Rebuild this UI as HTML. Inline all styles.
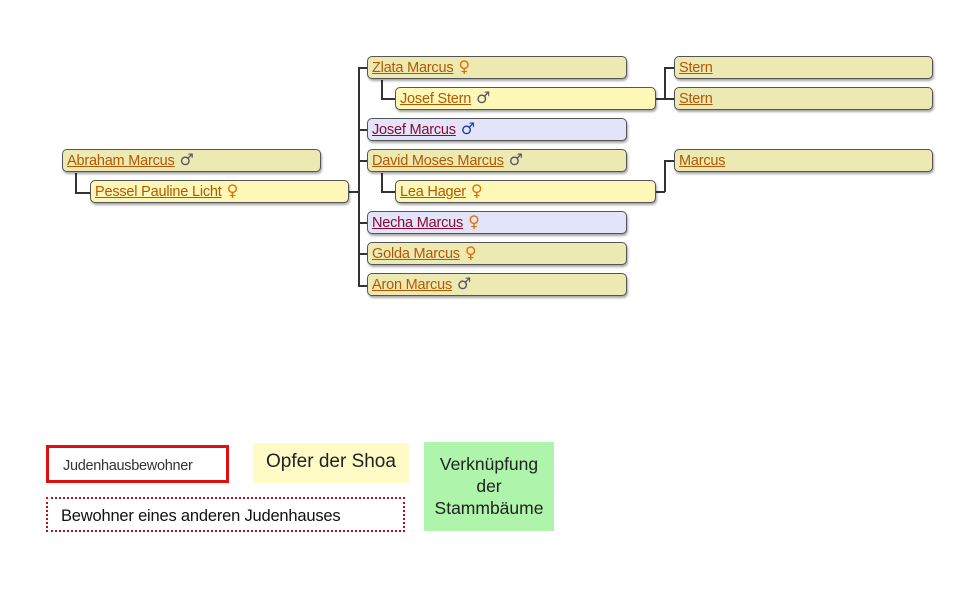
<!DOCTYPE html>
<html><head><meta charset="utf-8"><style>
body{margin:0;width:978px;height:591px;background:#fff;position:relative;overflow:hidden;font-family:"Liberation Sans","DejaVu Sans",sans-serif;}
.b{position:absolute;height:21px;border:1.5px solid #555;border-radius:5px;box-shadow:1px 2px 2px rgba(0,0,0,.35);box-sizing:content-box;font-size:14.5px;line-height:22px;padding-left:4px;white-space:nowrap;letter-spacing:-0.2px;overflow:hidden;}
.k{background:#ede9b2;}
.y{background:#fdf8b8;}
.l{background:#e3e3f9;}
.b a{color:#b35800;text-decoration:underline;}
.l a{color:#8a0a36;}
.s{font-family:"DejaVu Sans",sans-serif;font-size:16px;margin-left:5px;line-height:0;vertical-align:0;}
.m{color:#556;}
.lm{color:#1c3ab0;}
.f{color:#e27000;}
.ln{position:absolute;background:#333;}
</style></head><body>
<div class="ln" style="left:75px;top:173px;width:1.5px;height:20px"></div>
<div class="ln" style="left:75px;top:192px;width:15px;height:1.5px"></div>
<div class="ln" style="left:349px;top:191px;width:10px;height:1.5px"></div>
<div class="ln" style="left:358px;top:67px;width:1.5px;height:219px"></div>
<div class="ln" style="left:358px;top:67px;width:9px;height:1.5px"></div>
<div class="ln" style="left:358px;top:129px;width:9px;height:1.5px"></div>
<div class="ln" style="left:358px;top:160px;width:9px;height:1.5px"></div>
<div class="ln" style="left:358px;top:222px;width:9px;height:1.5px"></div>
<div class="ln" style="left:358px;top:253px;width:9px;height:1.5px"></div>
<div class="ln" style="left:358px;top:285px;width:9px;height:1.5px"></div>
<div class="ln" style="left:381px;top:80px;width:1.5px;height:19px"></div>
<div class="ln" style="left:381px;top:98px;width:14px;height:1.5px"></div>
<div class="ln" style="left:381px;top:173px;width:1.5px;height:19px"></div>
<div class="ln" style="left:381px;top:191px;width:14px;height:1.5px"></div>
<div class="ln" style="left:656px;top:98px;width:9px;height:1.5px"></div>
<div class="ln" style="left:664px;top:67px;width:1.5px;height:32px"></div>
<div class="ln" style="left:664px;top:67px;width:10px;height:1.5px"></div>
<div class="ln" style="left:664px;top:98px;width:10px;height:1.5px"></div>
<div class="ln" style="left:656px;top:191px;width:9px;height:1.5px"></div>
<div class="ln" style="left:664px;top:160px;width:1.5px;height:32px"></div>
<div class="ln" style="left:664px;top:160px;width:10px;height:1.5px"></div>
<div class="b k" style="left:62px;top:149px;width:253px"><a>Abraham Marcus</a><span class="s m">♂</span></div>
<div class="b y" style="left:90px;top:180px;width:253px"><a>Pessel Pauline Licht</a><span class="s f">♀</span></div>
<div class="b k" style="left:367px;top:56px;width:254px"><a>Zlata Marcus</a><span class="s f">♀</span></div>
<div class="b y" style="left:395px;top:87px;width:255px"><a>Josef Stern</a><span class="s m">♂</span></div>
<div class="b l" style="left:367px;top:118px;width:254px"><a>Josef Marcus</a><span class="s lm">♂</span></div>
<div class="b k" style="left:367px;top:149px;width:254px"><a>David Moses Marcus</a><span class="s m">♂</span></div>
<div class="b y" style="left:395px;top:180px;width:255px"><a>Lea Hager</a><span class="s f">♀</span></div>
<div class="b l" style="left:367px;top:211px;width:254px"><a>Necha Marcus</a><span class="s f">♀</span></div>
<div class="b k" style="left:367px;top:242px;width:254px"><a>Golda Marcus</a><span class="s f">♀</span></div>
<div class="b k" style="left:367px;top:273px;width:254px"><a>Aron Marcus</a><span class="s m">♂</span></div>
<div class="b k" style="left:674px;top:56px;width:253px"><a>Stern</a></div>
<div class="b k" style="left:674px;top:87px;width:253px"><a>Stern</a></div>
<div class="b k" style="left:674px;top:149px;width:253px"><a>Marcus</a></div>
<div style="position:absolute;left:46px;top:445px;height:32px;border:3px solid #e01010;font-size:14.5px;line-height:36px;padding-left:14px;box-sizing:content-box;width:163px;color:#333;letter-spacing:-0.3px">Judenhausbewohner</div>
<div style="position:absolute;left:253px;top:443px;width:156px;height:40px;background:#fefbc6;font-size:19px;line-height:38px;text-align:center;color:#222">Opfer der Shoa</div>
<div style="position:absolute;left:46px;top:497px;border:2px dotted #b01020;font-size:16.5px;line-height:34px;padding-left:13px;box-sizing:border-box;width:359px;height:35px;color:#111;letter-spacing:-0.2px">Bewohner eines anderen Judenhauses</div>
<div style="position:absolute;left:424px;top:442px;width:130px;height:89px;background:#aef4aa;font-size:17.5px;line-height:22px;text-align:center;padding-top:11px;box-sizing:border-box;color:#222">Verknüpfung<br>der<br>Stammbäume</div>
</body></html>
